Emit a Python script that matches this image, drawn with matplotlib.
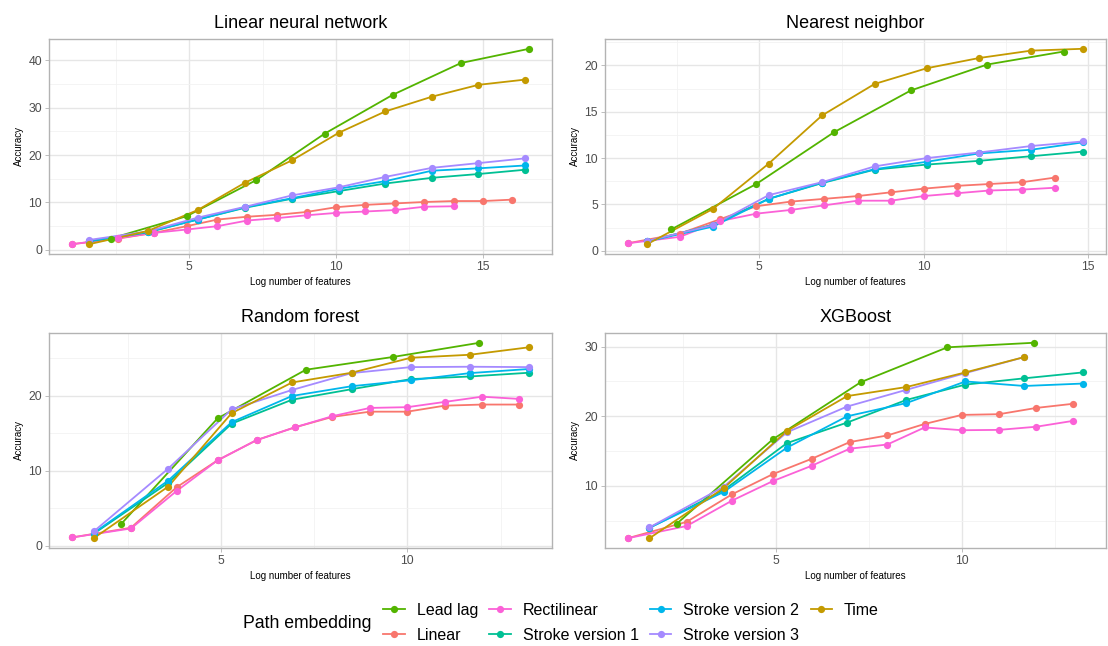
import matplotlib
matplotlib.use("Agg")
import matplotlib.pyplot as plt
from matplotlib.lines import Line2D
from matplotlib.ticker import MultipleLocator

plt.rcParams['font.family'] = ['Liberation Sans', 'DejaVu Sans']

# ---- data -------------------------------------------------------------
series_names = ["Lead lag", "Linear", "Rectilinear", "Stroke version 1",
                "Stroke version 2", "Stroke version 3", "Time"]
series_colors = ["#53B400", "#F8766D", "#FB61D7", "#00C094",
                 "#00B6EB", "#A58AFF", "#C49A00"]

# log number of features (x positions) for the three path dimensions
x_dim2 = [1.0, 2.585, 3.807, 4.907, 5.954, 6.977, 7.989, 8.994, 9.997,
          10.998, 11.999, 13.0, 14.0, 15.0, 16.0]
x_dim3 = [1.585, 3.585, 5.285, 6.907, 8.504, 10.093, 11.679, 13.264,
          14.850, 16.435]
x_dim5 = [2.322, 4.907, 7.276, 9.607, 11.931, 14.253, 16.575]

panel_titles = ["Linear neural network", "Nearest neighbor",
                "Random forest", "XGBoost"]

# Linear neural network
lnn_lead_lag = [2.4, 7.1, 14.7, 24.5, 32.7, 39.4, 42.4]
lnn_linear = [1.2, 2.4, 3.6, 5.0, 6.4, 7.0, 7.4, 8.0, 9.0, 9.5, 9.8, 10.1, 10.3, 10.3, 10.6]
lnn_rectilinear = [1.2, 2.5, 3.6, 4.3, 5.0, 6.2, 6.7, 7.3, 7.8, 8.1, 8.4, 9.1, 9.2]
lnn_stroke1 = [1.8, 3.7, 6.4, 8.9, 10.8, 12.4, 14.0, 15.2, 16.0, 16.9]
lnn_stroke2 = [1.9, 3.8, 6.4, 9.0, 10.9, 12.9, 14.5, 16.7, 17.2, 17.8]
lnn_stroke3 = [2.1, 3.9, 6.8, 9.1, 11.5, 13.2, 15.4, 17.3, 18.3, 19.3]
lnn_time = [1.2, 4.0, 8.4, 14.2, 18.9, 24.7, 29.2, 32.3, 34.8, 35.9]

# Nearest neighbor
nn_lead_lag = [2.3, 7.2, 12.8, 17.3, 20.1, 21.5]
nn_linear = [0.8, 1.85, 3.4, 4.8, 5.3, 5.6, 5.9, 6.3, 6.7, 7.0, 7.2, 7.4, 7.9]
nn_rectilinear = [0.8, 1.5, 3.2, 4.0, 4.4, 4.9, 5.4, 5.4, 5.9, 6.2, 6.5, 6.6, 6.8]
nn_stroke1 = [1.0, 2.8, 5.6, 7.3, 8.75, 9.3, 9.7, 10.2, 10.7]
nn_stroke2 = [1.0, 2.6, 5.6, 7.35, 8.8, 9.6, 10.5, 10.9, 11.7]
nn_stroke3 = [1.05, 2.75, 6.0, 7.4, 9.1, 10.0, 10.6, 11.3, 11.8]
nn_time = [0.7, 4.5, 9.4, 14.6, 18.0, 19.7, 20.8, 21.6, 21.8]

# Random forest
rf_lead_lag = [2.9, 17.0, 23.5, 25.2, 27.1]
rf_linear = [1.1, 2.4, 7.8, 11.4, 14.1, 15.8, 17.2, 17.9, 17.9, 18.7, 18.85, 18.85]
rf_rectilinear = [1.1, 2.3, 7.3, 11.4, 14.1, 15.8, 17.3, 18.4, 18.5, 19.2, 19.9, 19.6]
rf_stroke1 = [1.6, 8.4, 16.3, 19.5, 20.9, 22.25, 22.6, 23.1]
rf_stroke2 = [1.7, 8.7, 16.5, 20.0, 21.3, 22.1, 23.05, 23.6]
rf_stroke3 = [1.9, 10.3, 18.2, 20.8, 23.05, 23.85, 23.9, 23.85]
rf_time = [1.0, 7.9, 17.7, 21.8, 23.1, 25.1, 25.5, 26.5]

# XGBoost
xgb_lead_lag = [4.6, 16.7, 24.9, 29.9, 30.55]
xgb_linear = [2.5, 4.85, 8.8, 11.7, 13.9, 16.3, 17.25, 18.9, 20.2, 20.3, 21.2, 21.8]
xgb_rectilinear = [2.5, 4.25, 7.9, 10.7, 12.9, 15.35, 15.95, 18.4, 18.0, 18.05, 18.5, 19.35]
xgb_stroke1 = [4.0, 9.4, 16.15, 19.1, 22.35, 24.55, 25.45, 26.3]
xgb_stroke2 = [4.0, 9.15, 15.5, 20.0, 21.9, 25.0, 24.35, 24.7]
xgb_stroke3 = [4.05, 9.9, 17.7, 21.4, 23.8, 26.2, 28.5]
xgb_time = [2.5, 9.7, 17.9, 22.9, 24.2, 26.3, 28.5]

panels = [
    [lnn_lead_lag, lnn_linear, lnn_rectilinear, lnn_stroke1, lnn_stroke2, lnn_stroke3, lnn_time],
    [nn_lead_lag, nn_linear, nn_rectilinear, nn_stroke1, nn_stroke2, nn_stroke3, nn_time],
    [rf_lead_lag, rf_linear, rf_rectilinear, rf_stroke1, rf_stroke2, rf_stroke3, rf_time],
    [xgb_lead_lag, xgb_linear, xgb_rectilinear, xgb_stroke1, xgb_stroke2, xgb_stroke3, xgb_time],
]
series_x = [x_dim5, x_dim2, x_dim2, x_dim3, x_dim3, x_dim3, x_dim3]
y_major = [10, 5, 10, 10]

# ---- figure -----------------------------------------------------------
W, H = 1108, 646
fig = plt.figure(figsize=(W / 100, H / 100), dpi=100)

boxes = [(49, 39, 552, 254), (605, 39, 1106, 254),
         (49, 333, 552, 548), (605, 333, 1106, 548)]

grid_major = "#E6E6E6"
grid_minor = "#F2F2F2"
border = "#B3B3B3"

for i, (l, t, r, b) in enumerate(boxes):
    ax = fig.add_axes([l / W, 1 - b / H, (r - l) / W, (b - t) / H])
    allx, ally = [], []
    for s in range(len(series_names)):
        ys = panels[i][s]
        xs = series_x[s][:len(ys)]
        allx += xs
        ally += ys
        ax.plot(xs, ys, color=series_colors[s], lw=1.3, zorder=3 + s * 0.01,
                solid_capstyle='butt')
    for s in range(len(series_names)):
        ys = panels[i][s]
        xs = series_x[s][:len(ys)]
        ax.plot(xs, ys, 'o', color=series_colors[s], ms=5.2, mew=0,
                zorder=4 + s * 0.01)
    x0, x1 = min(allx), max(allx)
    y0, y1 = min(ally), max(ally)
    dx, dy = (x1 - x0) * 0.05, (y1 - y0) * 0.05
    ax.set_xlim(x0 - dx, x1 + dx)
    ax.set_ylim(y0 - dy, y1 + dy)
    ax.xaxis.set_major_locator(MultipleLocator(5))
    ax.xaxis.set_minor_locator(MultipleLocator(2.5))
    ax.yaxis.set_major_locator(MultipleLocator(y_major[i]))
    ax.yaxis.set_minor_locator(MultipleLocator(y_major[i] / 2))
    ax.grid(which='major', color=grid_major, lw=1.0, zorder=0)
    ax.grid(which='minor', color=grid_minor, lw=0.6, zorder=0)
    ax.set_axisbelow(True)
    for sp in ax.spines.values():
        sp.set_color(border)
        sp.set_linewidth(1.0)
    ax.tick_params(which='major', length=3, width=0.6, color=border,
                   labelsize=8.8, labelcolor="#4D4D4D", pad=2)
    ax.tick_params(which='minor', length=0)
    ax.set_title(panel_titles[i], fontsize=13, pad=8, color="black")
    ax.set_xlabel("Log number of features", fontsize=7, labelpad=3)
    ax.set_ylabel("Accuracy", fontsize=7, labelpad=3)

# ---- legend -----------------------------------------------------------
handles = [Line2D([0], [0], color=c, lw=1.3, marker='o', ms=5.2, mew=0)
           for c in series_colors]
fig.text(243 / W, 1 - 623 / H, "Path embedding", fontsize=12.7,
         ha='left', va='center')
fig.legend(handles, series_names, ncol=4, loc='center left',
           bbox_to_anchor=(383 / W, 1 - 623 / H), frameon=False,
           fontsize=11.5, handlelength=1.35, handletextpad=0.75,
           columnspacing=0.7, labelspacing=0.62, borderaxespad=0,
           borderpad=0)

fig.savefig("out.png", dpi=100)
